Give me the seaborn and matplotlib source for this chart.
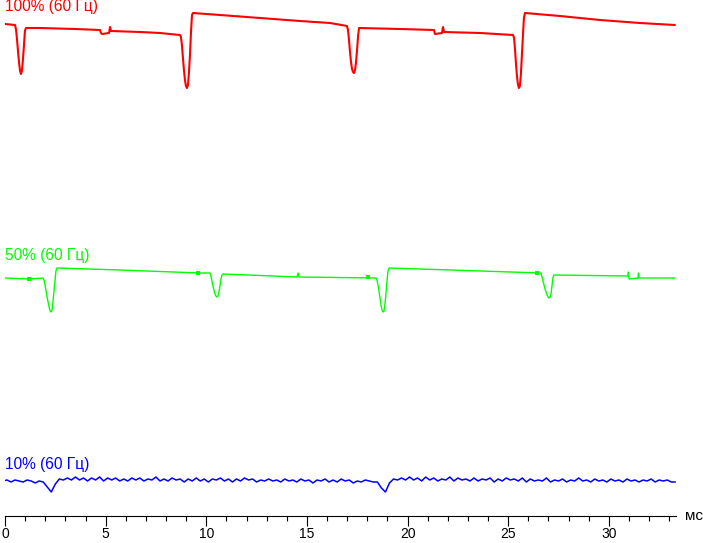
import numpy as np
import pandas as pd
import matplotlib
matplotlib.use("Agg")
import matplotlib.pyplot as plt
from matplotlib.ticker import MultipleLocator
import seaborn as sns

# ---------------- data (time in ms, brightness in arbitrary units) ----------------
red_t = [0.00, 0.50, 0.55, 0.60, 0.65, 0.70, 0.75, 0.79, 0.84, 0.89, 0.94, 0.99, 1.04,
         1.74, 3.48, 4.72, 4.77, 4.82, 5.17, 5.22, 5.27, 6.71, 7.70, 8.69,
         8.74, 8.79, 8.84, 8.89, 8.94, 8.99, 9.04, 9.09, 9.14, 9.19, 9.24, 9.29, 9.34,
         10.68, 12.67, 14.65, 16.15, 16.99,
         17.04, 17.09, 17.14, 17.19, 17.24, 17.29, 17.34, 17.39, 17.44, 17.49, 17.54, 17.59,
         19.62, 21.31, 21.36, 21.71, 21.76, 21.81, 23.60, 25.24,
         25.29, 25.34, 25.38, 25.43, 25.48, 25.53, 25.58, 25.63, 25.68, 25.73, 25.78, 25.83,
         27.57, 29.56, 31.54, 33.28]
red_v = [492, 491, 486, 476, 464, 453, 445, 442, 445, 456, 470, 485, 488,
         488, 487, 486, 483, 482, 483, 489, 485, 484, 483, 481,
         479, 471, 458, 446, 436, 430, 428, 431, 444, 461, 484, 501, 503,
         501, 498, 495, 493, 490,
         486, 476, 464, 454, 447, 444, 443, 446, 454, 466, 480, 488,
         487, 486, 482, 483, 489, 484, 483, 481,
         478, 466, 454, 441, 432, 428, 430, 442, 461, 480, 498, 503,
         500, 496, 493, 491]

green_t = [0.00, 1.19, 1.89, 1.94, 1.99, 2.04, 2.09, 2.14, 2.19, 2.24, 2.29, 2.34, 2.38,
           2.43, 2.48, 2.53, 2.58, 5.71, 9.69, 10.18,
           10.23, 10.28, 10.33, 10.38, 10.43, 10.48, 10.53, 10.58, 10.63, 10.68, 10.73,
           10.78, 10.83, 14.51, 14.56, 14.61, 18.43,
           18.48, 18.53, 18.58, 18.63, 18.68, 18.73, 18.78, 18.83, 18.87, 18.92, 18.97,
           19.02, 19.08, 22.11, 26.63,
           26.68, 26.73, 26.78, 26.83, 26.88, 26.93, 26.98, 27.03, 27.08, 27.13, 27.18,
           27.22, 27.27, 30.95, 30.97, 31.00, 31.45, 31.47, 31.50, 33.28]
green_v = [238, 237, 238, 236, 231, 225, 219, 214, 209, 205, 204, 206, 214,
           224, 234, 245, 248, 246, 243, 243,
           240, 235, 230, 226, 222, 220, 219, 220, 224, 230, 237,
           241, 242, 239, 243, 239, 238,
           236, 231, 225, 218, 211, 206, 204, 205, 211, 221, 233,
           244, 248, 246, 243,
           239, 235, 231, 227, 224, 221, 219, 218, 219, 223, 231,
           238, 241, 240, 244, 237, 238, 243, 238, 238]

green_marks_t = [1.19, 9.59, 18.03, 26.43]
green_marks_v = [237, 243, 239, 243]

blue_v = [35, 36, 34, 36, 35, 34, 36, 35, 33, 35,
          34, 29, 24, 32, 37,
          36, 38, 36, 39, 36, 38, 35, 38, 36, 39, 35, 38, 36, 38, 35, 37,
          35, 38, 36, 38, 35, 37, 36, 39, 35, 37, 35, 38, 36, 37, 34, 37, 35, 38, 35, 37,
          34, 37, 36, 38, 35, 37, 34, 37, 35, 38, 36, 37, 34, 36, 35, 37, 35, 36, 34, 37,
          35, 36, 34, 37, 35, 36, 33, 36, 35, 37, 34, 36, 34, 37, 35, 36, 33, 35, 34, 36, 35, 34,
          34, 28, 24, 33, 37,
          36, 38, 36, 39, 36, 38, 35, 39, 36, 38, 35, 37, 36, 39, 35, 38, 36, 37, 35, 38,
          35, 37, 36, 38, 34, 37, 35, 38, 36, 37, 35, 38, 34, 37, 35, 36, 35, 38, 34, 36,
          35, 37, 34, 36, 35, 38, 35, 36, 34, 37, 35, 36, 34, 37, 35, 36, 34, 37, 35, 36,
          34, 36, 35, 37, 34, 36, 35, 36, 34, 34]
blue_t = np.linspace(-0.1, 33.3, len(blue_v))  # 0.2 ms sampling

labels = ["100% (60 Гц)", "50% (60 Гц)", "10% (60 Гц)"]
label_levels = [517, 268, 59]
x_ticks = [0, 5, 10, 15, 20, 25, 30]
x_unit = "мс"

RED, GREEN, BLUE = "#ff0000", "#00ff00", "#0000ff"

# ---------------- plotting ----------------
sns.set_theme(style="white")
plt.rcParams["font.family"] = ["Liberation Sans", "DejaVu Sans"]

W, H = 703, 543
fig = plt.figure(figsize=(W / 100, H / 100), dpi=100, facecolor="white")
ax = fig.add_axes([5 / W, 27 / H, 671.3 / W, 516 / H])
ax.set_facecolor("white")

red_df = pd.DataFrame({"t": red_t, "v": red_v})
green_df = pd.DataFrame({"t": green_t, "v": green_v})
blue_df = pd.DataFrame({"t": blue_t, "v": blue_v})

sns.lineplot(data=red_df, x="t", y="v", color=RED, lw=1.5, estimator=None, sort=False, ax=ax)
sns.lineplot(data=green_df, x="t", y="v", color=GREEN, lw=1.0, estimator=None, sort=False, ax=ax)
sns.scatterplot(x=green_marks_t, y=green_marks_v, color=GREEN, marker="s", s=9,
                linewidth=0, ax=ax)
sns.lineplot(data=blue_df, x="t", y="v", color=BLUE, lw=1.1, estimator=None, sort=False, ax=ax)

for txt, lvl, col in zip(labels, label_levels, [RED, GREEN, BLUE]):
    ax.text(0, lvl, txt, color=col, fontsize=11.2, ha="left", va="top")

ax.set_xlim(0, 33.35)
ax.set_ylim(0, 516)
ax.set_xlabel("")
ax.set_ylabel("")
for s in ["top", "right", "left"]:
    ax.spines[s].set_visible(False)
ax.spines["bottom"].set_color("black")
ax.spines["bottom"].set_linewidth(0.8)
ax.set_yticks([])
ax.set_xticks(x_ticks)
ax.set_xticklabels([str(x) for x in x_ticks])
ax.xaxis.set_minor_locator(MultipleLocator(1))
ax.tick_params(axis="x", which="major", direction="out", length=7.2, width=0.8,
               color="black", labelsize=10, labelcolor="black", pad=0.8, bottom=True)
ax.tick_params(axis="x", which="minor", direction="out", length=3.6, width=0.8,
               color="black", bottom=True)
ax.grid(False)

fig.text(685 / W, 1 - 516 / H, x_unit, fontsize=11, color="black", ha="left", va="center")

fig.savefig("out.png", dpi=100, facecolor="white")
